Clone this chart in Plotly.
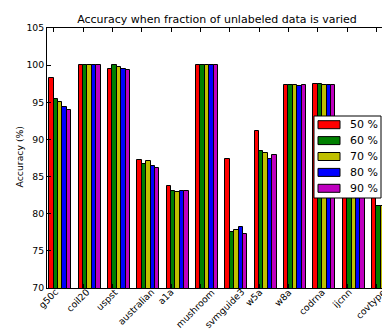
import plotly.graph_objects as go

categories = ["g50c", "coil20", "uspst", "australian", "a1a", "mushroom",
              "svmguide3", "w5a", "w8a", "codrna", "ijcnn", "covtype"]
series_names = ["50 %", "60 %", "70 %", "80 %", "90 %"]
acc_50 = [98.3, 100.0, 99.5, 87.2, 83.7, 100.0, 87.4, 91.2, 97.3, 97.4, 89.5, 84.0]
acc_60 = [95.5, 100.0, 100.0, 86.7, 83.1, 100.0, 77.5, 88.4, 97.3, 97.4, 89.0, 81.0]
acc_70 = [95.1, 100.0, 99.7, 87.1, 82.9, 100.0, 77.8, 88.2, 97.3, 97.3, 89.0, 81.0]
acc_80 = [94.3, 100.0, 99.5, 86.4, 83.1, 100.0, 78.2, 87.3, 97.2, 97.3, 88.8, 81.0]
acc_90 = [93.9, 100.0, 99.4, 86.1, 83.1, 100.0, 77.3, 87.9, 97.3, 97.3, 88.6, 80.9]
y_ticks = [70, 75, 80, 85, 90, 95, 100, 105]

series = [acc_50, acc_60, acc_70, acc_80, acc_90]
colors = ["#FF0000", "#008000", "#BFBF00", "#0000FF", "#BF00BF"]
bar_w = 0.15
FONT = "DejaVu Sans"
SMALL = 9.3
LARGE = 11

# plot area in pixels (for paper-coordinate conversions of layout elements)
L, R, T, B = 39, 379, 20, 280
def px(xp):
    return (xp - L) / (R - L)
def py(yp):
    return (B - yp) / (B - T)

# approximate DejaVu Sans advance widths (em) to centre rotated labels like matplotlib
CW = {"a": .613, "b": .635, "c": .550, "d": .635, "e": .615, "f": .352, "g": .635,
      "h": .634, "i": .278, "j": .278, "k": .579, "l": .278, "m": .974, "n": .634,
      "o": .612, "p": .635, "r": .411, "s": .521, "t": .392, "u": .634, "v": .592,
      "w": .818, "y": .592}
def text_w(s, size):
    return sum(CW.get(ch, .636) for ch in s) * size

fig = go.Figure()
for i, (name, vals, col) in enumerate(zip(series_names, series, colors)):
    xs = [k - 0.3 + bar_w * i for k in range(len(categories))]
    fig.add_trace(go.Bar(
        x=xs, y=vals, width=bar_w, name=name, showlegend=False,
        marker=dict(color=col, line=dict(color="black", width=1)),
    ))

# rotated category labels: rotated bbox centred under tick, top just below axis
tick_x = [k - 0.225 for k in range(len(categories))]
label_top = 285
corr = 5.5  # compensate rendering offset of rotated annotation text
for tx, lab in zip(tick_x, categories):
    w = text_w(lab, SMALL)
    cy = label_top + (w + 0.9 * SMALL) * 0.3536 - corr
    fig.add_annotation(
        x=tx, y=py(cy), xref="x", yref="paper", text=lab, showarrow=False,
        textangle=-45, xanchor="center", yanchor="middle", xshift=-corr,
        font=dict(family=FONT, size=SMALL, color="black"),
    )

# y-axis label
fig.add_annotation(
    x=px(10.5), y=py(149), xref="paper", yref="paper", text="Accuracy (%)",
    showarrow=False, textangle=-90, xanchor="center", yanchor="middle",
    font=dict(family=FONT, size=SMALL, color="black"),
)

# legend (matplotlib-like box with wide swatches)
shapes = [dict(type="rect", xref="paper", yref="paper",
               x0=px(306), x1=px(373), y0=py(190), y1=py(108),
               fillcolor="white", line=dict(color="black", width=1), layer="above")]
for j, (name, col) in enumerate(zip(series_names, colors)):
    cy = 116.7 + 15.9 * j
    shapes.append(dict(type="rect", xref="paper", yref="paper",
                       x0=px(310), x1=px(332), y0=py(cy + 4), y1=py(cy - 4),
                       fillcolor=col, line=dict(color="black", width=1), layer="above"))
    fig.add_annotation(
        x=px(340), y=py(cy), xref="paper", yref="paper", text=name,
        showarrow=False, xanchor="left", yanchor="middle",
        font=dict(family=FONT, size=LARGE, color="black"),
    )

fig.update_layout(
    width=390, height=332,
    margin=dict(l=L, r=390 - R, t=T, b=332 - B),
    paper_bgcolor="white", plot_bgcolor="white",
    bargap=0, barmode="overlay",
    shapes=shapes,
    title=dict(text="Accuracy when fraction of unlabeled data is varied",
               x=(L + R) / 2 / 390, xanchor="center", y=1 - 11 / 332, yanchor="middle",
               font=dict(family=FONT, size=LARGE, color="black")),
    font=dict(family=FONT, size=SMALL, color="black"),
    showlegend=False,
)
fig.update_xaxes(
    range=[-0.453, 11.135], tickvals=tick_x, showticklabels=False,
    ticks="inside", ticklen=4, tickcolor="black", mirror="ticks",
    showline=True, linecolor="black", linewidth=1, showgrid=False, zeroline=False,
)
fig.update_yaxes(
    range=[70, 105], tickvals=y_ticks, ticktext=[str(v) for v in y_ticks],
    ticks="inside", ticklen=4, tickcolor="black", mirror="ticks",
    showline=True, linecolor="black", linewidth=1, showgrid=False, zeroline=False,
    tickfont=dict(family=FONT, size=SMALL, color="black"),
)

fig.write_html("out.html")
